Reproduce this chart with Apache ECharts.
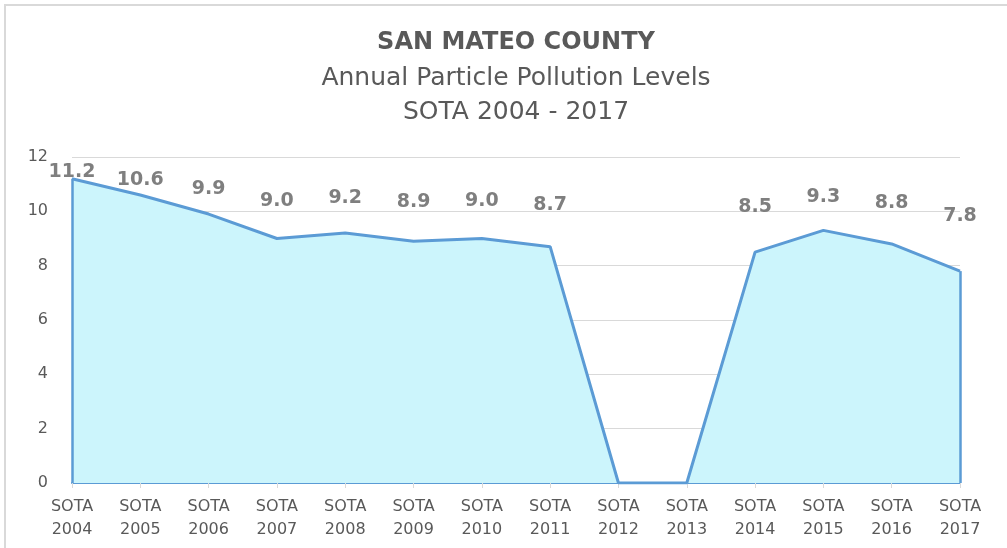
<!DOCTYPE html>
<html lang="en">
<head>
    <meta charset="UTF-8">
    <script type="text/javascript" src="https://cdn.jsdelivr.net/npm/echarts@6/dist/echarts.min.js"></script>
    <style>
        html, body {margin: 0; padding: 0; background: #fff;}
        #chart {width: 1007px; height: 548px;}
    </style>
</head>
<body>
<div id="chart"></div>
<script>
    // SOTA reports (years), annual particle pollution
    var years = ['2004', '2005', '2006', '2007', '2008', '2009', '2010', '2011', '2012', '2013', '2014', '2015', '2016', '2017'];
    var levels = [11.2, 10.6, 9.9, 9.0, 9.2, 8.9, 9.0, 8.7, 0, 0, 8.5, 9.3, 8.8, 7.8];
    var yTicks = [0, 2, 4, 6, 8, 10, 12];

    var categories = years.map(function (y) { return 'SOTA\n' + y; });
    var FONT = 'DejaVu Sans';

    var points = levels.map(function (v) {
        // excel put the labels higher for lower values, mimic that
        var dy = -166 + 14.2 * v + 16;
        return {
            value: v,
            label: {show: v !== 0, offset: [0, dy]}
        };
    });

    var first = levels[0], last = levels[levels.length - 1];

    var chart = echarts.init(document.getElementById('chart'));
    chart.setOption({
        backgroundColor: '#fff',
        animation: false,
        title: {
            left: 511,
            textAlign: 'center',
            top: 26,
            text: 'SAN MATEO COUNTY',
            subtext: 'Annual Particle Pollution Levels\nSOTA 2004 - 2017',
            itemGap: 6,
            textStyle: {
                color: '#595959',
                fontFamily: FONT,
                fontSize: 24,
                fontWeight: 'bold'
            },
            subtextStyle: {
                color: '#595959',
                fontFamily: FONT,
                fontSize: 25,
                lineHeight: 34
            }
        },
        grid: {left: 72, right: 47, top: 157, bottom: 65, containLabel: false},
        xAxis: {
            type: 'category',
            data: categories,
            boundaryGap: false,
            axisLine: {lineStyle: {color: '#5B9BD5', width: 2}},
            axisTick: {show: true, length: 5, lineStyle: {color: '#d9d9d9'}},
            axisLabel: {
                color: '#595959',
                fontFamily: FONT,
                fontSize: 16,
                lineHeight: 23,
                margin: 12,
                interval: 0
            },
            splitLine: {show: false}
        },
        yAxis: {
            type: 'value',
            min: yTicks[0],
            max: yTicks[yTicks.length - 1],
            interval: 2,
            axisLine: {show: false},
            axisTick: {show: false},
            axisLabel: {
                color: '#595959',
                fontFamily: FONT,
                fontSize: 16,
                margin: 24
            },
            splitLine: {lineStyle: {color: '#d9d9d9', width: 1}}
        },
        graphic: [{
            type: 'rect',
            shape: {x: 5, y: 5, width: 1020, height: 570},
            style: {fill: 'none', stroke: '#d9d9d9', lineWidth: 2},
            silent: true,
            z: -1
        }],
        series: [{
            name: 'PM',
            type: 'line',
            data: points,
            symbol: 'circle',
            symbolSize: 2,
            showSymbol: true,
            itemStyle: {color: 'rgba(0,0,0,0)'},
            lineStyle: {color: '#5B9BD5', width: 3},
            areaStyle: {color: '#CCF5FC', opacity: 1},
            label: {
                show: true,
                position: 'top',
                color: '#7f7f7f',
                fontFamily: FONT,
                fontSize: 19,
                fontWeight: 'bold',
                formatter: function (p) { return p.value.toFixed(1); }
            },
            markLine: {
                silent: true,
                symbol: 'none',
                label: {show: false},
                lineStyle: {color: '#5B9BD5', width: 2.5, type: 'solid'},
                data: [
                    [{coord: [categories[0], 0]}, {coord: [categories[0], first]}],
                    [{coord: [categories[categories.length - 1], 0]}, {coord: [categories[categories.length - 1], last]}]
                ]
            },
            z: 3
        }]
    });
</script>
</body>
</html>
